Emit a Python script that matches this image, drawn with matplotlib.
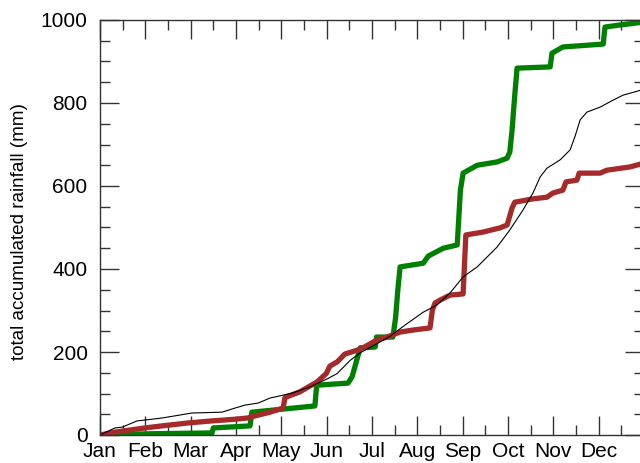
import matplotlib
matplotlib.use('Agg')
import matplotlib.pyplot as plt
from matplotlib.ticker import MultipleLocator

plt.rcParams['font.family'] = ['Liberation Sans', 'DejaVu Sans']

MONTHS = ['Jan', 'Feb', 'Mar', 'Apr', 'May', 'Jun',
          'Jul', 'Aug', 'Sep', 'Oct', 'Nov', 'Dec']

# time in months since 1 Jan, accumulated rainfall in mm
green_t = [0, 1.1, 2.47, 2.5, 3.31, 3.35, 4.74, 4.78, 5.47, 5.56, 5.65, 5.74, 6.07, 6.1,
           6.46, 6.52, 6.57, 6.62, 7.13, 7.24, 7.57, 7.88, 7.95, 8.01, 8.32, 8.76, 8.98,
           9.04, 9.09, 9.15, 9.2, 9.93, 9.97, 10.21, 11.1, 11.14, 11.47, 12.0]
green_v = [0, 3, 5, 17, 22, 55, 70, 120, 125, 140, 175, 210, 212, 236,
           236, 282, 350, 405, 414, 431, 450, 458, 590, 631, 650, 658, 667,
           682, 735, 820, 884, 887, 920, 935, 942, 983, 988, 995]

red_t = [0, 0.33, 0.99, 1.37, 1.94, 2.47, 2.98, 3.26, 3.31, 3.75, 4.04, 4.08,
         4.19, 4.41, 4.63, 4.79, 4.99, 5.07, 5.23, 5.40, 5.69, 5.80, 6.11, 6.33,
         6.62, 6.91, 7.28, 7.33, 7.39, 7.50, 7.72, 8.01, 8.07, 8.45, 8.82, 8.98,
         9.09, 9.15, 9.55, 9.86, 9.99, 10.21, 10.28, 10.52, 10.57, 11.03, 11.18,
         11.69, 12.0]
red_v = [0, 7, 17, 22, 29, 34, 38, 41, 43, 55, 65, 90,
         95, 104, 118, 128, 148, 166, 176, 195, 205, 210, 229, 236,
         248, 253, 258, 300, 318, 325, 337, 340, 482, 489, 499, 506,
         547, 561, 569, 573, 583, 590, 610, 614, 631, 631, 638,
         646, 655]

black_t = [0, 0.33, 0.49, 0.82, 0.99, 1.37, 2.03, 2.69, 2.98, 3.2, 3.49, 3.75,
           4.24, 4.63, 5.01, 5.23, 5.52, 5.74, 6.11, 6.40, 6.73, 7.13, 7.43, 7.72,
           8.01, 8.32, 8.76, 9.04, 9.33, 9.55, 9.71, 9.86, 10.15, 10.37, 10.48,
           10.59, 10.74, 11.03, 11.32, 11.54, 12.0]
black_v = [0, 17, 19, 34, 36, 41, 53, 55, 65, 72, 77, 89,
           101, 116, 135, 148, 180, 198, 220, 238, 265, 296, 313, 342,
           381, 405, 453, 494, 542, 583, 622, 643, 663, 687, 720,
           759, 778, 790, 807, 819, 833]

fig = plt.figure(figsize=(6.4, 4.63), dpi=100)
ax = fig.add_axes([100 / 640, 1 - 435 / 463, 544 / 640, 415 / 463])

ax.plot(green_t, green_v, color='#008000', lw=3.8)
ax.plot(red_t, red_v, color='#a52a2a', lw=3.8)
ax.plot(black_t, black_v, color='black', lw=0.8)

ax.set_xlim(0, 12)
ax.set_ylim(0, 1000)
ax.set_xticks(range(12))
ax.set_xticklabels(MONTHS)
ax.xaxis.set_minor_locator(MultipleLocator(0.5))
ax.yaxis.set_major_locator(MultipleLocator(200))
ax.yaxis.set_minor_locator(MultipleLocator(50))

ax.tick_params(which='both', direction='in', top=True, right=True,
               width=1.0, color='#333333', labelsize=15)
ax.tick_params(which='major', length=13.7, pad=5)
ax.tick_params(which='minor', length=7.2)
ax.tick_params(axis='y', pad=9)
for s in ax.spines.values():
    s.set_color('#333333')
    s.set_linewidth(1.0)

ax.set_ylabel('total accumulated rainfall (mm)', fontsize=13.6, va='center')
ax.yaxis.set_label_coords(-80 / 544, 0.49)

fig.savefig('out.png', dpi=100)
